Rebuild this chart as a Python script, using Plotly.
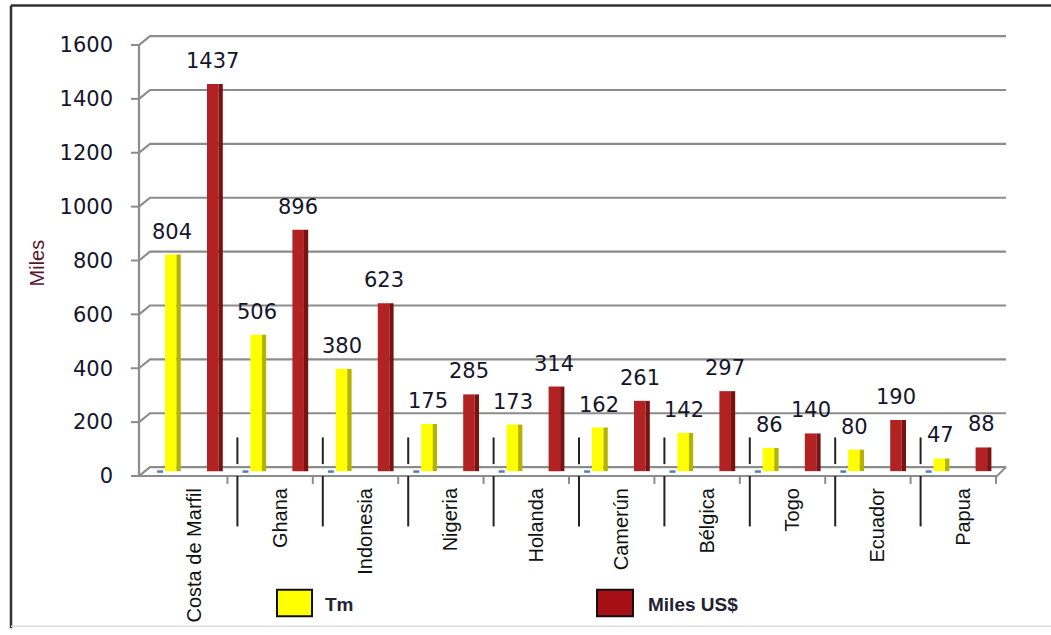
import plotly.graph_objects as go

categories = ["Costa de Marfil", "Ghana", "Indonesia", "Nigeria", "Holanda",
              "Camerún", "Bélgica", "Togo", "Ecuador", "Papua"]
tm = [804, 506, 380, 175, 173, 162, 142, 86, 80, 47]
miles_usd = [1437, 896, 623, 285, 314, 261, 297, 140, 190, 88]
y_ticks = [0, 200, 400, 600, 800, 1000, 1200, 1400, 1600]

W, H = 1051, 635
L, R, T, B = 152, 45, 45, 154
PW = W - L - R
PH = H - T - B
YMAX = 1600
BAR_LIFT = 18  # 3D depth lift of the bars (axis units, ~5 px)


def xp(px):
    return (px - L) / PW


def yp(py):
    return (H - B - py) / PH


def ypix(v):
    return (H - B) - v / YMAX * PH


idx = list(range(len(categories)))
FACE_W = 0.135
SIDE_W = 0.05
Y_OFF = -0.348
R_OFF = 0.144

fig = go.Figure()
# keeps the labelled value axis active (draws nothing)
fig.add_trace(go.Scatter(x=idx, y=tm, mode="none", yaxis="y",
                         showlegend=False, hoverinfo="skip"))
fig.add_trace(go.Bar(x=idx, y=tm, width=FACE_W, offset=Y_OFF, yaxis="y2",
                     marker=dict(color="#FFFF00", line=dict(width=0)),
                     name="Tm", showlegend=False, hoverinfo="skip"))
fig.add_trace(go.Bar(x=idx, y=tm, width=SIDE_W, offset=Y_OFF + FACE_W, yaxis="y2",
                     marker=dict(color="#B4B400", line=dict(width=0)),
                     showlegend=False, hoverinfo="skip"))
fig.add_trace(go.Bar(x=idx, y=miles_usd, width=FACE_W, offset=R_OFF, yaxis="y2",
                     marker=dict(color="#B22222", line=dict(width=0)),
                     name="Miles US$", showlegend=False, hoverinfo="skip"))
fig.add_trace(go.Bar(x=idx, y=miles_usd, width=SIDE_W, offset=R_OFF + FACE_W, yaxis="y2",
                     marker=dict(color="#7A1212", line=dict(width=0)),
                     showlegend=False, hoverinfo="skip"))

shapes = []
annotations = []
GRID = "#8C8C8C"
DEPTH = 9
AX_X = 139
for v in y_ticks:
    y0 = ypix(v)
    shapes.append(dict(type="path", xref="paper", yref="paper", layer="below",
                       path=f"M {xp(AX_X)} {yp(y0)} L {xp(AX_X + 11)} {yp(y0 - DEPTH)} L {xp(1006)} {yp(y0 - DEPTH)}",
                       line=dict(color=GRID, width=2.2)))
    shapes.append(dict(type="line", xref="paper", yref="paper",
                       x0=xp(AX_X - 8), x1=xp(AX_X), y0=yp(y0), y1=yp(y0),
                       line=dict(color=GRID, width=2)))
shapes.append(dict(type="line", xref="paper", yref="paper",
                   x0=xp(AX_X), x1=xp(AX_X), y0=yp(ypix(0)), y1=yp(ypix(YMAX)),
                   line=dict(color=GRID, width=2.2)))
shapes.append(dict(type="path", xref="paper", yref="paper", layer="below",
                   path=f"M {xp(AX_X)} {yp(ypix(0))} L {xp(997)} {yp(ypix(0))} L {xp(1006)} {yp(ypix(0) - DEPTH)}",
                   line=dict(color=GRID, width=2)))
for k in range(len(categories) + 1):
    b = k - 0.5
    shapes.append(dict(type="line", xref="x", yref="paper",
                       x0=b - 0.117, x1=b - 0.117, y0=yp(ypix(0)), y1=yp(ypix(0) + 8),
                       line=dict(color=GRID, width=2)))
    if k < len(categories):
        # small blue floor marks (empty third series in the original)
        shapes.append(dict(type="line", xref="x", yref="paper",
                           x0=b + 0.06, x1=b + 0.13, y0=yp(476.5), y1=yp(476.5),
                           line=dict(color="#4F7FBF", width=2.5)))
    if 0 < k < len(categories):
        shapes.append(dict(type="line", xref="x", yref="paper",
                           x0=b, x1=b, y0=yp(442), y1=yp(469),
                           line=dict(color="#222222", width=2)))
        shapes.append(dict(type="line", xref="x", yref="paper",
                           x0=b, x1=b, y0=yp(481), y1=yp(532),
                           line=dict(color="#222222", width=2)))

LBL = dict(family="DejaVu Sans", size=21, color="#15152a")
for i, v in enumerate(tm):
    annotations.append(dict(x=i + Y_OFF + FACE_W / 2 + 0.01, y=v, xref="x", yref="y2",
                            text=str(v), showarrow=False, yshift=23,
                            xanchor="center", yanchor="middle", font=LBL))
for i, v in enumerate(miles_usd):
    annotations.append(dict(x=i + R_OFF + FACE_W / 2, y=v, xref="x", yref="y2",
                            text=str(v), showarrow=False, yshift=23,
                            xanchor="center", yanchor="middle", font=LBL))

shapes.append(dict(type="rect", xref="paper", yref="paper",
                   x0=xp(277), x1=xp(312), y0=yp(623), y1=yp(596),
                   fillcolor="#FFFF00", line=dict(color="#111111", width=2)))
shapes.append(dict(type="rect", xref="paper", yref="paper",
                   x0=xp(597), x1=xp(633), y0=yp(623), y1=yp(596),
                   fillcolor="#A50F15", line=dict(color="#111111", width=2)))
LEG = dict(family="Liberation Sans", size=19, color="#222233")
annotations.append(dict(x=xp(323), y=yp(611), xref="paper", yref="paper",
                        text="<b>Tm</b>", showarrow=False, xanchor="left",
                        yanchor="middle", font=LEG))
annotations.append(dict(x=xp(646), y=yp(611), xref="paper", yref="paper",
                        text="<b>Miles US$</b>", showarrow=False, xanchor="left",
                        yanchor="middle", font=LEG))
annotations.append(dict(x=xp(37), y=yp(265), xref="paper", yref="paper",
                        text="Miles", showarrow=False, textangle=-90,
                        xanchor="center", yanchor="middle",
                        font=dict(family="Liberation Sans", size=20, color="#5a1630")))

shapes.append(dict(type="line", xref="paper", yref="paper",
                   x0=xp(11), x1=xp(11), y0=yp(5), y1=yp(635),
                   line=dict(color="#333333", width=2.5)))
shapes.append(dict(type="line", xref="paper", yref="paper",
                   x0=xp(11), x1=xp(1051), y0=yp(5), y1=yp(5),
                   line=dict(color="#333333", width=2.5)))
shapes.append(dict(type="line", xref="paper", yref="paper",
                   x0=xp(11), x1=xp(1051), y0=yp(633), y1=yp(633),
                   line=dict(color="#DDDDDD", width=1.5)))

fig.update_layout(
    width=W, height=H,
    margin=dict(l=L, r=R, t=T, b=B, pad=0),
    paper_bgcolor="white", plot_bgcolor="white",
    barmode="overlay", showlegend=False,
    shapes=shapes, annotations=annotations,
    xaxis=dict(range=[-0.5, len(categories) - 0.5], tickmode="array",
               tickvals=idx, ticktext=categories, tickangle=-90,
               showgrid=False, zeroline=False, showline=False, ticks="",
               ticklabelstandoff=7,
               tickfont=dict(family="Liberation Sans", size=20, color="#111111")),
    yaxis=dict(range=[0, YMAX], tickmode="array", tickvals=y_ticks,
               showgrid=False, zeroline=False, showline=False, ticks="",
               ticklabelstandoff=38,
               tickfont=dict(family="DejaVu Sans", size=21, color="#15152a")),
    yaxis2=dict(range=[-BAR_LIFT, YMAX - BAR_LIFT], overlaying="y",
                showgrid=False, zeroline=False, showline=False, ticks="",
                showticklabels=False),
)

fig.write_html("out.html")
